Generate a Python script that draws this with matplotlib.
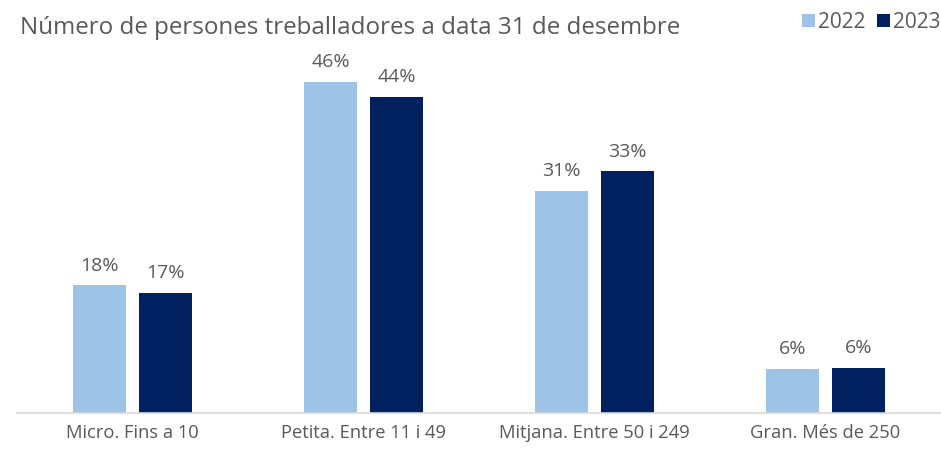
import numpy as np
import matplotlib.pyplot as plt

plt.rcParams['font.family'] = ['Open Sans', 'DejaVu Sans']

# dades
categories = ['Micro. Fins a 10', 'Petita. Entre 11 i 49', 'Mitjana. Entre 50 i 249', 'Gran. Més de 250']
years = ['2022', '2023']
v2022 = [17.6, 45.8, 30.7, 6.0]
v2023 = [16.6, 43.7, 33.4, 6.2]
colors = ['#9DC3E6', '#002060']
text_col = '#595959'

fig = plt.figure(figsize=(9.41, 4.49), dpi=100)
ax = fig.add_axes([17 / 941, 36.5 / 449, 1 - 17 / 941, 361 / 449])

x = np.arange(len(categories))
w = 0.226
off = 0.1425
for vals, col, yr, d in zip([v2022, v2023], colors, years, [-off, off]):
    bars = ax.bar(x + d, vals, width=w, color=col, label=yr)
    for b, v in zip(bars, vals):
        ax.text(b.get_x() + b.get_width() / 2, v + 1.5, '{:.0f}%'.format(v),
                ha='center', va='bottom', fontsize=14, color=text_col)

ax.set_xlim(-0.5, len(categories) - 0.5)
ax.set_ylim(0, 50)
ax.set_xticks(x)
ax.set_xticklabels(categories, fontsize=13.2, color=text_col)
ax.tick_params(axis='x', length=0, pad=8)
ax.set_yticks([])
for s in ['top', 'right', 'left']:
    ax.spines[s].set_visible(False)
ax.spines['bottom'].set_color('#D9D9D9')
ax.spines['bottom'].set_linewidth(1.2)

fig.text(20 / 941, 1 - 28 / 449, 'Número de persones treballadores a data 31 de desembre',
         fontsize=17.4, color=text_col, va='center', ha='left')

leg = fig.legend(loc='upper right', bbox_to_anchor=(1.019, 1.015), ncol=2, frameon=False,
                 prop={'size': 15}, handlelength=0.6, handleheight=0.6,
                 handletextpad=0.15, columnspacing=0.55)
for t in leg.get_texts():
    t.set_color(text_col)

fig.savefig('out.png', dpi=100)
